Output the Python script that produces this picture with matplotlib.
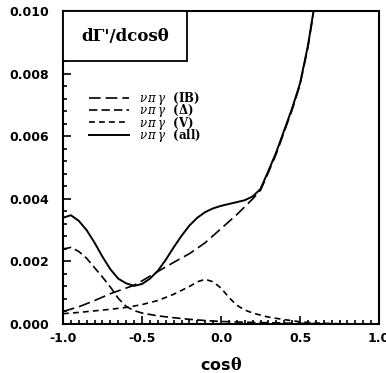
import matplotlib
matplotlib.use("Agg")
import matplotlib.pyplot as plt
from matplotlib.ticker import MultipleLocator, FormatStrFormatter
from matplotlib.patches import Rectangle

# values
x_all = [-1.0, -0.95, -0.9, -0.85, -0.8, -0.75, -0.7, -0.65, -0.6, -0.55, -0.5,
         -0.45, -0.4, -0.35, -0.3, -0.25, -0.2, -0.15, -0.1, -0.05, 0.0, 0.05,
         0.1, 0.15, 0.2, 0.25, 0.3, 0.35, 0.4, 0.45, 0.5, 0.55, 0.585]
y_all = [0.00340, 0.00348, 0.00330, 0.00300, 0.00260, 0.00215, 0.00175, 0.00145,
         0.00130, 0.00122, 0.00128, 0.00145, 0.00170, 0.00205, 0.00245, 0.00282,
         0.00315, 0.00340, 0.00358, 0.00370, 0.00378, 0.00384, 0.00390, 0.00396,
         0.00408, 0.00432, 0.00490, 0.00550, 0.00620, 0.00690, 0.00770, 0.00890,
         0.01000]

x_ib = [-1.0, -0.9, -0.8, -0.7, -0.6, -0.55, -0.5, -0.4, -0.3, -0.2, -0.1,
        0.0, 0.1, 0.2, 0.25, 0.3, 0.35, 0.4, 0.45, 0.5, 0.55, 0.585]
y_ib = [0.00040, 0.00055, 0.00075, 0.00097, 0.00115, 0.00124, 0.00138, 0.00168,
        0.00197, 0.00225, 0.00260, 0.00305, 0.00350, 0.00400, 0.00428, 0.00485,
        0.00545, 0.00615, 0.00685, 0.00765, 0.00885, 0.00995]

x_delta = [-1.0, -0.95, -0.9, -0.85, -0.8, -0.75, -0.7, -0.65, -0.6, -0.55, -0.5,
           -0.4, -0.3, -0.2, -0.1, 0.0, 0.2, 0.4, 0.6, 0.8, 1.0]
y_delta = [0.00240, 0.00245, 0.00232, 0.00210, 0.00180, 0.00150, 0.00118, 0.00082,
           0.00056, 0.00043, 0.00035, 0.00026, 0.00020, 0.00015, 0.00011, 0.00008,
           0.00005, 0.00003, 0.00001, 0.0, 0.0]

x_v = [-1.0, -0.9, -0.8, -0.7, -0.6, -0.5, -0.4, -0.3, -0.2, -0.15, -0.1, -0.05,
       0.0, 0.05, 0.1, 0.15, 0.2, 0.3, 0.4, 0.5, 0.6, 0.8, 1.0]
y_v = [0.00033, 0.00037, 0.00042, 0.00047, 0.00053, 0.00062, 0.00075, 0.00095,
       0.00120, 0.00135, 0.00143, 0.00135, 0.00115, 0.00085, 0.00060, 0.00045,
       0.00035, 0.00022, 0.00014, 0.00007, 0.00003, 0.0, 0.0]

labels = ["(IB)", "(Δ)", "(V)", "(all)"]

plt.rcParams['mathtext.fontset'] = 'dejavuserif'

fig = plt.figure(figsize=(3.86, 3.73), dpi=100)
ax = fig.add_axes([0.1632, 0.1314, 0.8187, 0.8378])

ax.plot(x_ib, y_ib, color='black', lw=1.2, dashes=(7, 3), label='ib')
ax.plot(x_delta, y_delta, color='black', lw=1.2, dashes=(5, 2.5), label='delta')
ax.plot(x_v, y_v, color='black', lw=1.2, dashes=(3.5, 2.5), label='v')
ax.plot(x_all, y_all, color='black', lw=1.4, label='all')

ax.set_xlim(-1.0, 1.0)
ax.set_ylim(0.0, 0.010)
ax.xaxis.set_major_locator(MultipleLocator(0.5))
ax.xaxis.set_minor_locator(MultipleLocator(0.05))
ax.yaxis.set_major_locator(MultipleLocator(0.002))
ax.yaxis.set_minor_locator(MultipleLocator(0.0004))
ax.xaxis.set_major_formatter(FormatStrFormatter('%.1f'))
ax.yaxis.set_major_formatter(FormatStrFormatter('%.3f'))
ax.tick_params(which='both', direction='in', top=False, right=False, width=1.2)
ax.tick_params(which='major', length=6, labelsize=9)
ax.tick_params(axis='y', which='major', pad=10)
ax.tick_params(axis='x', which='major', pad=6)
ax.tick_params(which='minor', length=3)
for t in ax.get_xticklabels() + ax.get_yticklabels():
    t.set_fontweight('bold')
for s in ax.spines.values():
    s.set_linewidth(1.5)

ax.set_xlabel(r'cos$\mathbf{\theta}$', fontsize=11.5, fontweight='bold', labelpad=8)

# title box in the upper left corner
ax.add_patch(Rectangle((0.0, 0.84), 0.392, 0.16, transform=ax.transAxes,
                       fc='white', ec='black', lw=1.3, zorder=3))
ax.text(0.196, 0.92, "dΓ'/dcosθ", transform=ax.transAxes, ha='center', va='center',
        fontsize=12, fontweight='bold', family='DejaVu Serif', zorder=4)

leg = ax.legend(loc='upper left', bbox_to_anchor=(0.055, 0.775), frameon=False,
                fontsize=8.5, handlelength=3.4, labelspacing=-0.4,
                handletextpad=0.9, borderpad=0.2)
for txt, lab in zip(leg.get_texts(), labels):
    txt.set_text(r'$\nu\,\pi\,\gamma$  ' + lab)
    txt.set_family(['DejaVu Serif'])
    txt.set_fontweight('bold')

fig.savefig("out.png", dpi=100)
